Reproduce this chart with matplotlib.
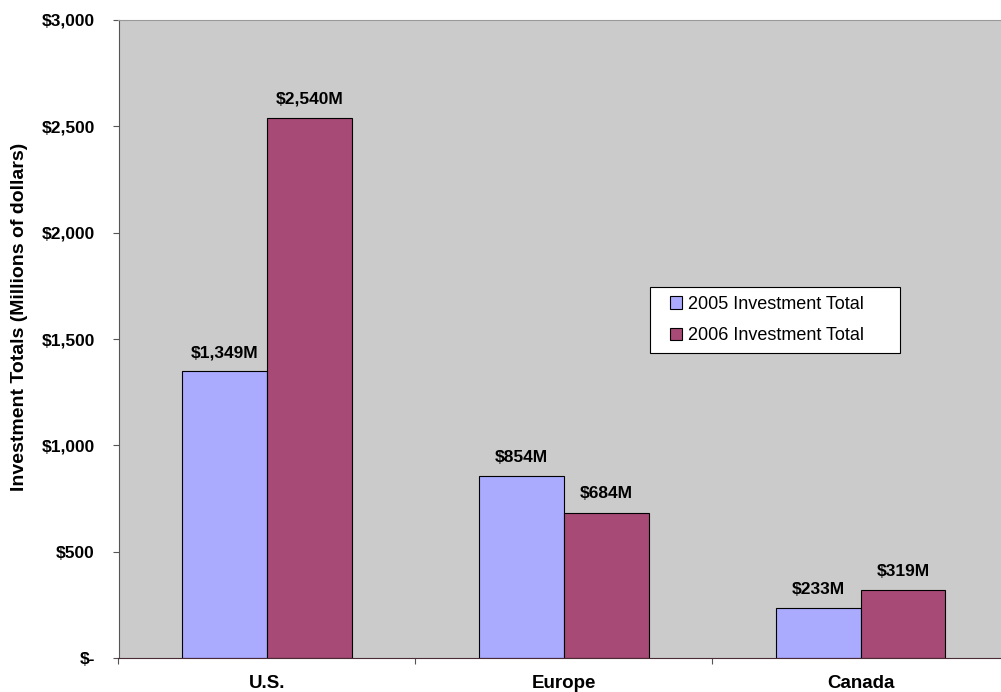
import numpy as np
import matplotlib.pyplot as plt
from matplotlib.patches import Rectangle

plt.rcParams['font.family'] = ['Liberation Sans', 'DejaVu Sans']

regions = ['U.S.', 'Europe', 'Canada']
total_2005 = [1349, 854, 233]
total_2006 = [2540, 684, 319]
series_names = ['2005 Investment Total', '2006 Investment Total']

W, H = 1001, 692
fig = plt.figure(figsize=(W / 100, H / 100), dpi=100)
# plot area runs slightly past the right edge of the figure
ax = fig.add_axes([118.5 / W, 1 - 658 / H, (1009 - 118.5) / W, 638 / H])
ax.set_facecolor('#CBCBCB')

x = np.arange(len(regions))
w = 0.286
b1 = ax.bar(x - w / 2, total_2005, w, color='#AAAAFF', edgecolor='black', linewidth=0.8,
            label=series_names[0])
b2 = ax.bar(x + w / 2, total_2006, w, color='#A84A76', edgecolor='black', linewidth=0.8,
            label=series_names[1])

for bars in (b1, b2):
    for r in bars:
        ax.annotate('${:,}M'.format(int(r.get_height())),
                    (r.get_x() + r.get_width() / 2, r.get_height()),
                    xytext=(0, 8), textcoords='offset points',
                    ha='center', va='bottom', fontsize=12.5, fontweight='bold')

ax.set_xlim(-0.5, 2.5)
ax.set_ylim(0, 3000)
ax.set_yticks(np.arange(0, 3001, 500))
ax.set_yticklabels(['$-'] + ['${:,}'.format(v) for v in range(500, 3001, 500)],
                   fontsize=12.5, fontweight='bold')
ax.tick_params(axis='y', direction='out', length=4, color='#555555', pad=13)

# category separators on the x axis, names in between
ax.set_xticks([-0.5, 0.5, 1.5])
ax.set_xticklabels([])
ax.tick_params(axis='x', direction='out', length=4, color='#555555')
for i, name in enumerate(regions):
    ax.text(i, -25 / 638, name, transform=ax.get_xaxis_transform(), ha='center', va='center',
            fontsize=13.5, fontweight='bold')

ax.text(20 / W, 1 - 317 / H, 'Investment Totals (Millions of dollars)', transform=fig.transFigure,
        rotation=90, ha='center', va='center', fontsize=14, fontweight='bold')

for s in ('top', 'right'):
    ax.spines[s].set_color('#999999')
ax.spines['left'].set_color('#555555')
ax.spines['bottom'].set_color('#4a2a35')

# legend box
ax.add_patch(Rectangle((650 / W, 1 - 353 / H), 250 / W, 66 / H, transform=fig.transFigure,
                       facecolor='white', edgecolor='black', linewidth=0.8, zorder=4,
                       clip_on=False))
leg = ax.legend(loc='upper left', bbox_to_anchor=(661 / W, 1 - 287 / H),
                bbox_transform=fig.transFigure, fontsize=13, frameon=False,
                handlelength=0.68, handleheight=0.68, handletextpad=0.3,
                borderpad=0.5, borderaxespad=0, labelspacing=0.78)
leg.set_zorder(5)

fig.savefig('out.png', dpi=100)
